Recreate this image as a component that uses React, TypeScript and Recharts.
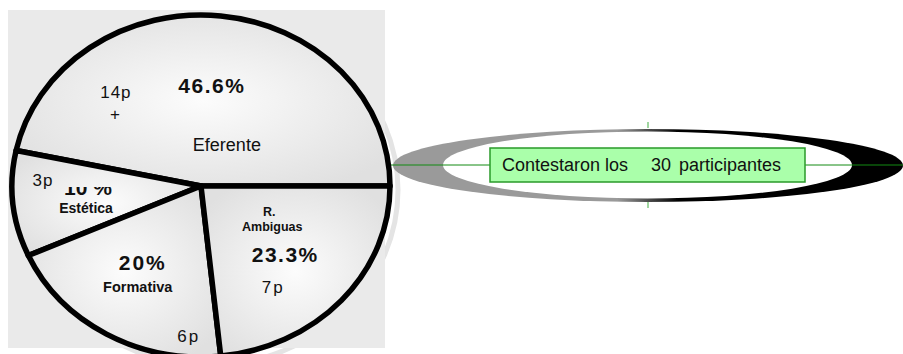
import { PieChart, Pie } from 'recharts'

const FONT = '"Liberation Sans", Arial, sans-serif'

// answers grouped by category, counted in participants
const CATEGORIES = ['Eferente', 'Estética', 'Formativa', 'R. Ambiguas']
const PARTICIPANTS = [14, 3, 6, 7]
const PERCENT_LABELS = ['46.6%', '10 %', '20%', '23.3%']
const COUNT_LABELS = ['14p', '3p', '6p', '7p']
const SUMMARY = ['Contestaron los', '30', 'participantes']

const data = CATEGORIES.map((name, i) => ({ name, value: PARTICIPANTS[i] }))

// the pie is drawn as an ellipse, wider than tall
const STRETCH = 189 / 171
const RAD = Math.PI / 180

function EllipseSector(props: any) {
  const { cx, cy, outerRadius, startAngle, endAngle } = props
  const rx = outerRadius * STRETCH
  const ry = outerRadius
  const pt = (a: number) => [cx + rx * Math.cos(a * RAD), cy - ry * Math.sin(a * RAD)]
  const [x1, y1] = pt(startAngle)
  const [x2, y2] = pt(endAngle)
  const large = Math.abs(endAngle - startAngle) > 180 ? 1 : 0
  const d = `M${cx},${cy} L${x1},${y1} A${rx},${ry} 0 ${large} 0 ${x2},${y2} Z`
  return <path d={d} fill="url(#sliceShade)" stroke="#000" strokeWidth={5.5} strokeLinejoin="round" />
}

type Line = { text: string; dx: number; dy: number; size: number; bold?: boolean; spacing?: number; clip?: boolean }

// text lines for each slice, offset from the slice's label anchor
function sliceLines(i: number): Line[] {
  switch (i) {
    case 0:
      return [
        { text: PERCENT_LABELS[0], dx: 1, dy: -8, size: 21, bold: true, spacing: 1.5 },
        { text: COUNT_LABELS[0], dx: -95, dy: -3, size: 17, spacing: 1 },
        { text: '+', dx: -96, dy: 19, size: 17 },
        { text: CATEGORIES[0], dx: 16, dy: 50, size: 18 },
      ]
    case 1:
      return [
        { text: COUNT_LABELS[1], dx: -64, dy: -9, size: 17, spacing: 1 },
        { text: PERCENT_LABELS[1], dx: -19, dy: 0, size: 21, bold: true, clip: true },
        { text: CATEGORIES[1], dx: -21, dy: 18, size: 14, bold: true },
      ]
    case 2:
      return [
        { text: PERCENT_LABELS[2], dx: -11, dy: 10, size: 21, bold: true, spacing: 2 },
        { text: CATEGORIES[2], dx: -16, dy: 32, size: 14.5, bold: true },
        { text: COUNT_LABELS[2], dx: 35, dy: 82, size: 17, spacing: 2 },
      ]
    default: {
      const [first, second] = CATEGORIES[3].split(' ')
      return [
        { text: first, dx: -2, dy: -27, size: 12.5, bold: true },
        { text: second, dx: 1, dy: -12, size: 12.5, bold: true },
        { text: PERCENT_LABELS[3], dx: 14, dy: 19, size: 21, bold: true, spacing: 1.5 },
        { text: COUNT_LABELS[3], dx: 2, dy: 50, size: 17, spacing: 2 },
      ]
    }
  }
}

function renderLabel(props: any) {
  const { cx, cy, midAngle, outerRadius, index } = props
  const ax = cx + 0.5 * outerRadius * STRETCH * Math.cos(midAngle * RAD)
  const ay = cy - 0.5 * outerRadius * Math.sin(midAngle * RAD)
  const clipId = `slice-clip-${index}`
  return (
    <g key={clipId}>
      <defs>
        <clipPath id={clipId}>
          <rect x={0} y={cy + 1} width={cx * 2} height={outerRadius} />
        </clipPath>
      </defs>
      {sliceLines(index).map((l, k) => (
        <text
          key={k}
          x={ax + l.dx}
          y={ay + l.dy}
          textAnchor="middle"
          fontFamily={FONT}
          fontSize={l.size}
          fontWeight={l.bold ? 'bold' : 'normal'}
          letterSpacing={l.spacing ?? 0}
          fill="#111"
          clipPath={l.clip ? `url(#${clipId})` : undefined}
        >
          {l.text}
        </text>
      ))}
    </g>
  )
}

export default function App() {
  return (
    <div style={{ position: 'absolute', left: 0, top: 0, width: 903, height: 354, background: '#fff' }}>
      <svg width={903} height={354} style={{ position: 'absolute', left: 0, top: 0 }}>
        <defs>
          <radialGradient id="sliceShade" cx="50%" cy="50%" r="60%">
            <stop offset="0%" stopColor="#fcfcfc" />
            <stop offset="100%" stopColor="#e0e0e0" />
          </radialGradient>
          <linearGradient id="ringShade" x1="0" x2="1" y1="0" y2="0">
            <stop offset="0.44" stopColor="#9a9a9a" />
            <stop offset="0.56" stopColor="#000" />
          </linearGradient>
        </defs>
        <ellipse cx={209} cy={190} rx={189} ry={175} fill="none" stroke="#e4e4e4" strokeWidth={5} />
        <rect x={8} y={10} width={377} height={338} fill="#eaeaea" />

        {/* summary callout */}
        <ellipse cx={648} cy={165.5} rx={255} ry={36.5} fill="url(#ringShade)" />
        <ellipse cx={647.5} cy={165} rx={204.5} ry={33.5} fill="#fff" />
        <line x1={385} x2={903} y1={165} y2={165} stroke="#138a13" strokeWidth={1} />
        <line x1={648} x2={648} y1={122} y2={128} stroke="#80c880" strokeWidth={1.5} />
        <line x1={648} x2={648} y1={202} y2={208} stroke="#80c880" strokeWidth={1.5} />
        <rect x={490} y={148} width={315} height={34} fill="#aaffaa" stroke="#2a9a2a" strokeWidth={1.5} />
        <g fontFamily={FONT} fontSize={18} fill="#111">
          <text x={502} y={170.5}>{SUMMARY[0]}</text>
          <text x={651} y={170.5}>{SUMMARY[1]}</text>
          <text x={679} y={170.5}>{SUMMARY[2]}</text>
        </g>
      </svg>
      <PieChart width={903} height={354} style={{ position: 'absolute', left: 0, top: 0 }}>
        <Pie
          data={data}
          dataKey="value"
          nameKey="name"
          cx={196}
          cy={181}
          outerRadius={171}
          startAngle={0}
          endAngle={360}
          shape={EllipseSector}
          label={renderLabel}
          labelLine={false}
          isAnimationActive={false}
        />
      </PieChart>
    </div>
  )
}
